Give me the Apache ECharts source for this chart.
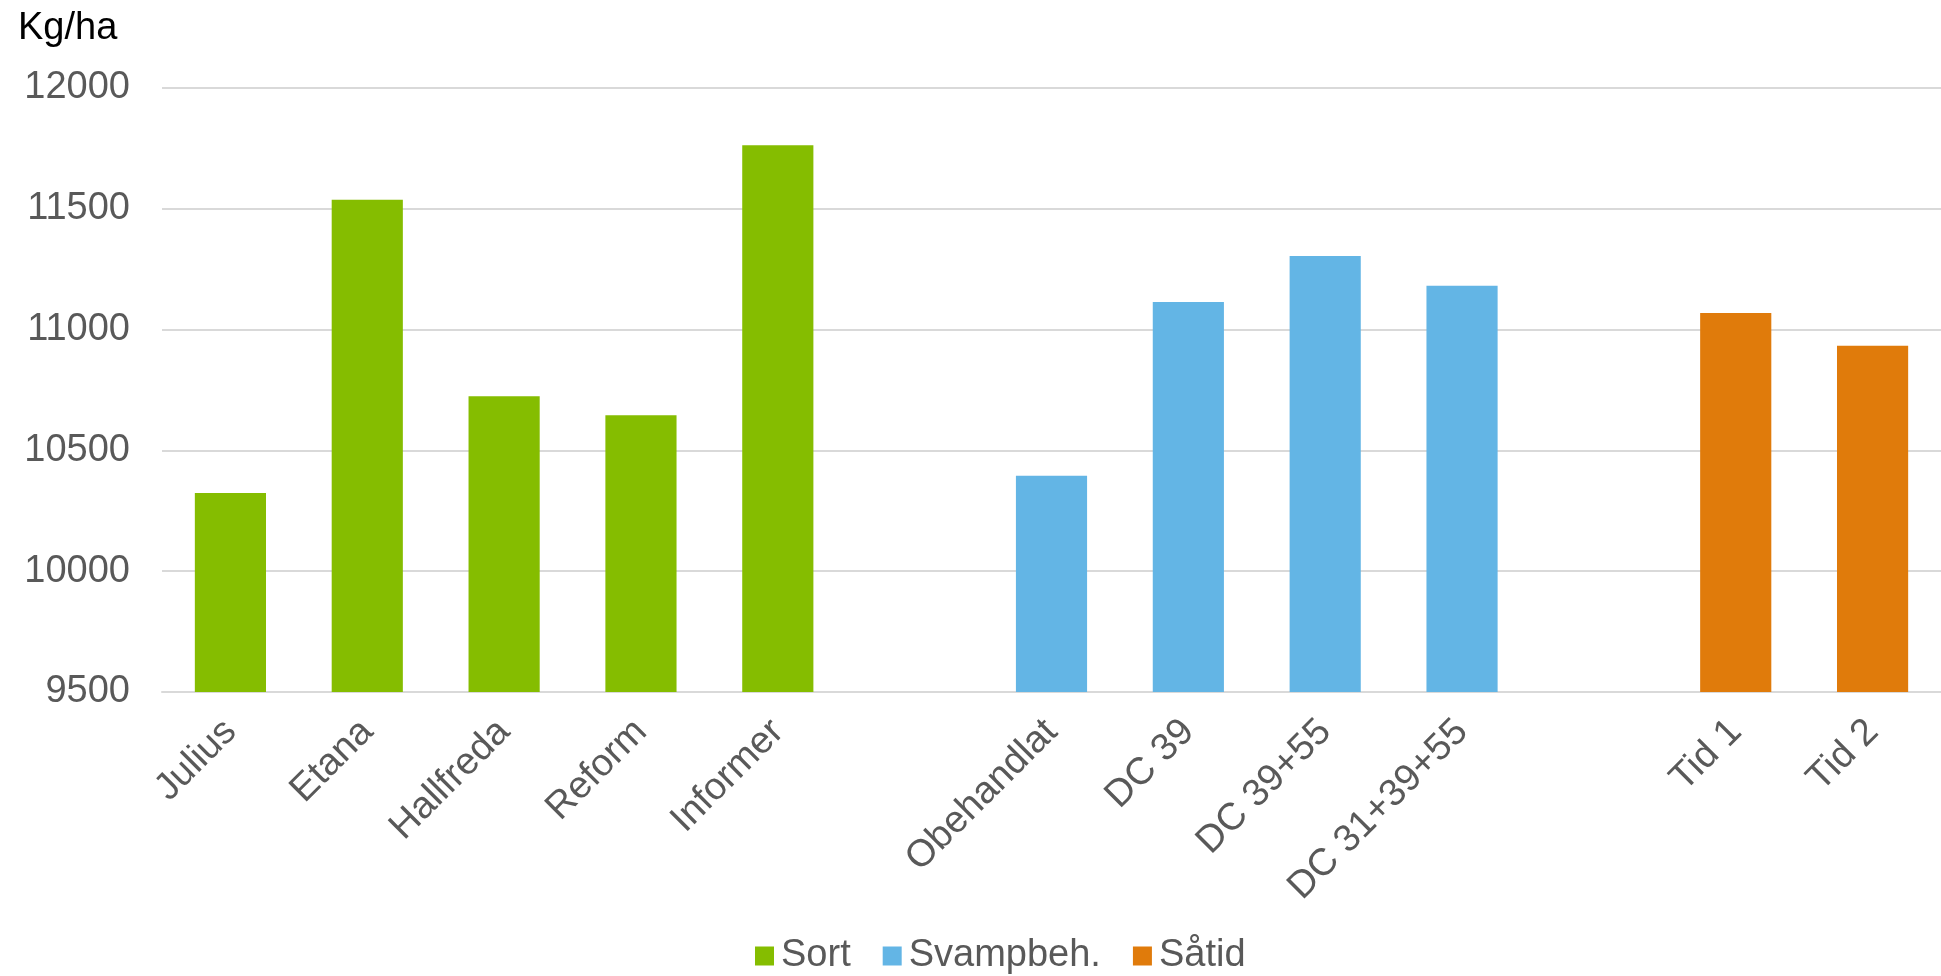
<!DOCTYPE html>
<html>
<head>
<meta charset="utf-8">
<script src="https://cdn.jsdelivr.net/npm/echarts@6/dist/echarts.min.js"></script>
<style>html,body{margin:0;padding:0;background:#fff}#c{width:1941px;height:976px}</style>
</head>
<body>
<div id="c"></div>
<script>
var categories = ['Julius','Etana','Hallfreda','Reform','Informer','','Obehandlat','DC 39','DC 39+55','DC 31+39+55','','Tid 1','Tid 2'];
var sortValues = [10324, 11537, 10724, 10645, 11763, '-', '-', '-', '-', '-', '-', '-', '-'];
var svampValues = ['-', '-', '-', '-', '-', '-', 10395, 11114, 11305, 11182, '-', '-', '-'];
var satidValues = ['-', '-', '-', '-', '-', '-', '-', '-', '-', '-', '-', 11069, 10933];
var seriesNames = ['Sort', 'Svampbeh.', 'Såtid'];
var yTicks = {min: 9500, max: 12000, interval: 500};

var colors = ['#85BD00', '#63B5E5', '#E07B0B'];
var font = 'Liberation Sans, Arial, sans-serif';
var chart = echarts.init(document.getElementById('c'));
function mk(name, data, color){
  return {name: name, type: 'bar', data: data, barWidth: '52%', barGap: '-100%',
    itemStyle: {color: color}, emphasis: {disabled: true}};
}
chart.setOption({
  animation: false,
  textStyle: {fontFamily: font},
  title: {text: 'Kg/ha', left: 13, top: 5, textStyle: {fontSize: 38, fontWeight: 'normal', color: '#000', fontFamily: font}},
  grid: {left: 162, right: 0, top: 88, bottom: 284, containLabel: false},
  legend: {data: seriesNames, left: 750, top: 932, itemWidth: 19, itemHeight: 19, itemGap: 32,
    icon: 'rect', textStyle: {fontSize: 38, color: '#595959', fontFamily: font, padding: [0,0,0,2]}},
  xAxis: {type: 'category', data: categories,
    axisLine: {show: true, lineStyle: {color: '#D9D9D9', width: 2}},
    axisTick: {show: false},
    axisLabel: {interval: 0, rotate: 45, fontSize: 38, color: '#595959', margin: 34, fontFamily: font}},
  yAxis: {type: 'value', min: yTicks.min, max: yTicks.max, interval: yTicks.interval,
    axisLine: {show: false}, axisTick: {show: false},
    splitLine: {lineStyle: {color: '#D9D9D9', width: 2}},
    axisLabel: {fontSize: 38, color: '#595959', margin: 32, fontFamily: font,
      formatter: function(v){ return String(v); }}},
  series: [mk(seriesNames[0], sortValues, colors[0]), mk(seriesNames[1], svampValues, colors[1]), mk(seriesNames[2], satidValues, colors[2])]
});
</script>
</body>
</html>
